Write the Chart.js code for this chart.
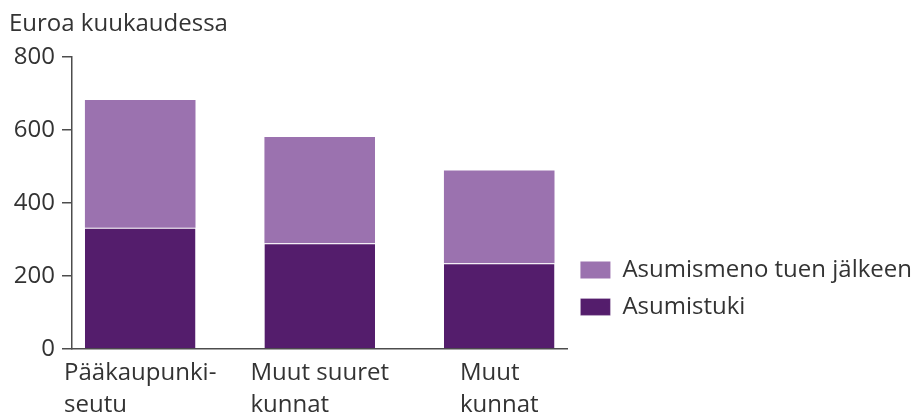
<!DOCTYPE html>
<html>
<head>
<meta charset="utf-8">
<script src="https://cdn.jsdelivr.net/npm/chart.js@4.4.1/dist/chart.umd.min.js"></script>
<style>
  html, body { margin: 0; padding: 0; background: #fff; }
</style>
</head>
<body>
<canvas id="canvas1" width="922" height="414"></canvas>
<script>
var categories = [["Pääkaupunki-", "seutu"], ["Muut suuret", "kunnat"], ["Muut", "kunnat"]];
var asumistuki = [332, 290, 235];
var asumismenoJalkeen = [350, 291, 254];
var seriesNames = ["Asumistuki", "Asumismeno tuen jälkeen"];
var yTicks = [0, 200, 400, 600, 800];

var textColor = "#333333";
var axisColor = "#4d4d4d";
var fontFamily = "'Open Sans', sans-serif";

Chart.defaults.font.family = fontFamily;
Chart.defaults.font.size = 24;
Chart.defaults.color = textColor;

function points(values) {
  return values.map(function(v, i) { return { x: i, y: v }; });
}

// category labels under the bars, lines left aligned inside a centred block
var xLabels = {
  id: "xLabels",
  afterDraw: function(chart) {
    var ctx = chart.ctx;
    var xs = chart.scales.x;
    var base = chart.chartArea.bottom;
    ctx.save();
    ctx.font = "24px " + fontFamily;
    ctx.fillStyle = textColor;
    ctx.textAlign = "left";
    ctx.textBaseline = "alphabetic";
    categories.forEach(function(lines, i) {
      var cx = xs.getPixelForValue(i);
      var w = Math.max.apply(null, lines.map(function(l) { return ctx.measureText(l).width; }));
      lines.forEach(function(l, j) {
        ctx.fillText(l, cx - w / 2, base + 31 + j * 32);
      });
    });
    ctx.restore();
  }
};

var ctx = document.getElementById("canvas1").getContext("2d");
new Chart(ctx, {
  type: "bar",
  data: {
    datasets: [
      {
        label: seriesNames[0],
        data: points(asumistuki),
        backgroundColor: "#541d6c",
        borderColor: "#ffffff",
        borderWidth: { top: 1, right: 0, bottom: 0, left: 0 },
        borderSkipped: false
      },
      {
        label: seriesNames[1],
        data: points(asumismenoJalkeen),
        backgroundColor: "#9b72af",
        borderWidth: 0
      }
    ]
  },
  options: {
    responsive: false,
    animation: false,
    layout: { padding: { left: 9, right: 0, top: 0, bottom: 0 } },
    datasets: { bar: { barPercentage: 0.616, categoryPercentage: 1 } },
    plugins: {
      tooltip: { enabled: false },
      title: {
        display: true,
        text: "Euroa kuukaudessa",
        align: "start",
        color: textColor,
        font: { size: 24, weight: "normal" },
        padding: { top: 10, bottom: 18.2 }
      },
      legend: {
        position: "right",
        reverse: true,
        maxWidth: 400,
        title: { display: true, text: " ", padding: { top: 134, bottom: 0 } },
        labels: {
          boxWidth: 30,
          boxHeight: 17,
          padding: 13,
          color: textColor,
          font: { size: 24 }
        }
      }
    },
    scales: {
      x: {
        type: "linear",
        stacked: true,
        offset: false,
        min: -0.38,
        max: 2.38,
        afterBuildTicks: function(s) { s.ticks = categories.map(function(c, i) { return { value: i }; }); },
        grid: { display: false },
        ticks: { display: false },
        border: { display: true, color: axisColor, width: 1.5 },
        afterFit: function(s) { s.height = 65; }
      },
      y: {
        stacked: true,
        min: yTicks[0],
        max: yTicks[yTicks.length - 1],
        afterBuildTicks: function(s) { s.ticks = yTicks.map(function(v) { return { value: v }; }); },
        grid: { drawOnChartArea: false, drawTicks: true, tickLength: 10, color: axisColor, lineWidth: 1.5 },
        border: { display: true, color: axisColor, width: 1.5 },
        ticks: { padding: 7, color: textColor, font: { size: 24 } },
        afterFit: function(s) { s.width = 63; }
      }
    }
  },
  plugins: [xLabels]
});
</script>
</body>
</html>
